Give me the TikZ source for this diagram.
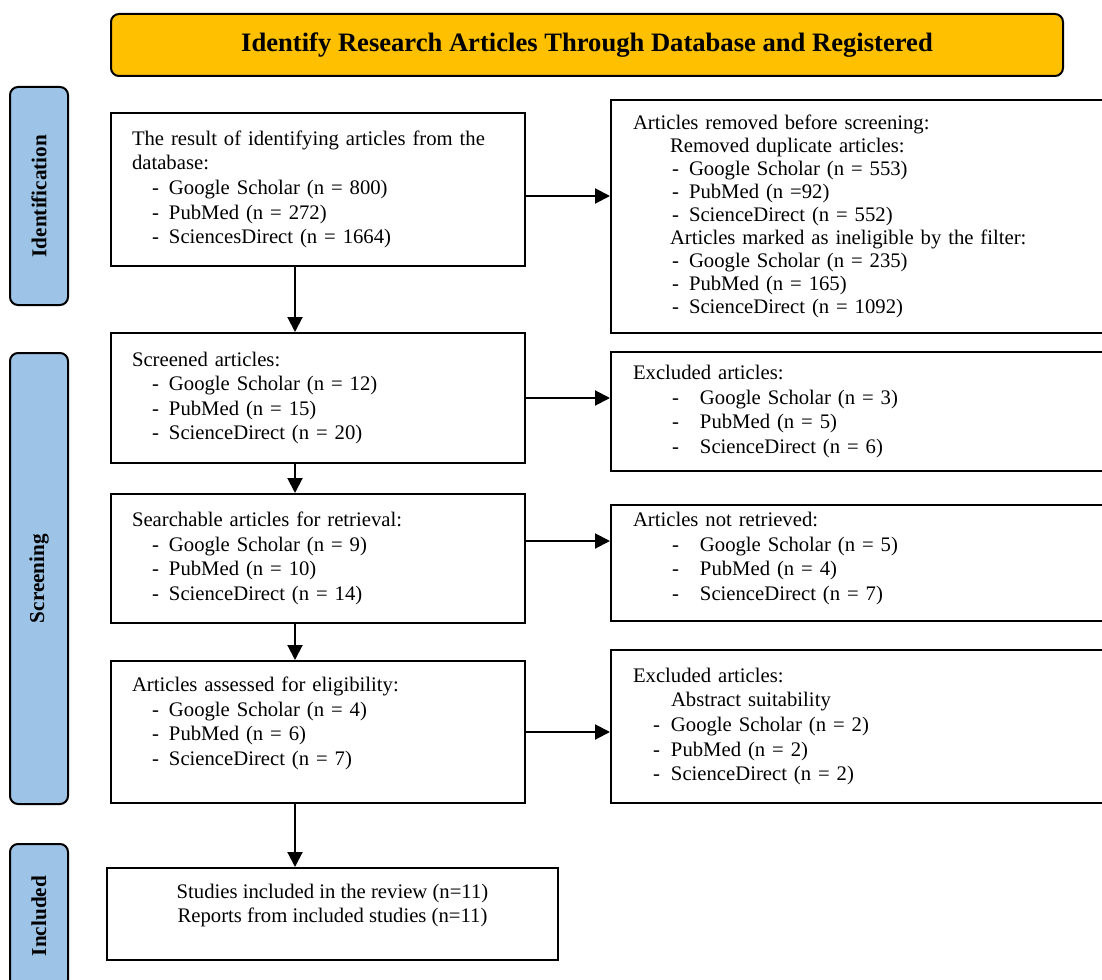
\documentclass[tikz,border=0pt]{standalone}
\usepackage{fontspec}
\setmainfont{Liberation Serif}
\usetikzlibrary{arrows.meta,positioning}
\definecolor{headgold}{HTML}{FFC000}
\definecolor{phaseblue}{HTML}{9DC3E6}
\newcommand{\dashitem}[3]{\hspace*{#1}\makebox[#2][l]{-}#3}
\begin{document}
\begin{tikzpicture}[x=0.5pt,y=-0.5pt,
  box/.style={draw,line width=1pt,align=left,inner xsep=10.5pt,inner ysep=3pt,font=\fontsize{10.35}{12.3}\selectfont},
  lbox/.style={box,text width=186pt,minimum height=#1},
  rbox/.style={box,inner xsep=11pt,text width=228.5pt,minimum height=#1},
  phase/.style={draw,line width=1pt,rounded corners=4pt,fill=phaseblue,rotate=90,minimum height=29pt,font=\fontsize{10.6}{12}\selectfont\bfseries},
  arr/.style={-{Triangle[length=7.5pt,width=7.5pt]},line width=1pt}]
\useasboundingbox (0,0) rectangle (1102,979);
\clip (0,0) rectangle (1102,979);
\node[draw,line width=1pt,rounded corners=4pt,fill=headgold,minimum width=476pt,minimum height=31pt,font=\fontsize{13.3}{16}\selectfont\bfseries] (head) at (587,45) {Identify Research Articles Through Database and Registered};
\node[phase,minimum width=109pt] (ident) at (39,196) {Identification};
\node[phase,minimum width=225.5pt] (screen) at (39,578.5) {Screening};
\node[phase,minimum width=72pt] (incl) at (39,916) {Included};
\node[lbox=76.5pt] (found) at (318,189.5) {The result of identifying articles from the\\ database:\\
  \dashitem{10pt}{8.5pt}{Google Scholar (n = 800)}\\
  \dashitem{10pt}{8.5pt}{PubMed (n = 272)}\\
  \dashitem{10pt}{8.5pt}{SciencesDirect (n = 1664)}};
\node[lbox=65pt] (screened) at (318,398) {Screened articles:\\
  \dashitem{10pt}{8.5pt}{Google Scholar (n = 12)}\\
  \dashitem{10pt}{8.5pt}{PubMed (n = 15)}\\
  \dashitem{10pt}{8.5pt}{ScienceDirect (n = 20)}};
\node[lbox=64.5pt] (sought) at (318,558.5) {Searchable articles for retrieval:\\
  \dashitem{10pt}{8.5pt}{Google Scholar (n = 9)}\\
  \dashitem{10pt}{8.5pt}{PubMed (n = 10)}\\
  \dashitem{10pt}{8.5pt}{ScienceDirect (n = 14)}};
\node[lbox=71pt] (assessed) at (318,732) {Articles assessed for eligibility:\\
  \dashitem{10pt}{8.5pt}{Google Scholar (n = 4)}\\
  \dashitem{10pt}{8.5pt}{PubMed (n = 6)}\\
  \dashitem{10pt}{8.5pt}{ScienceDirect (n = 7)}\rule[-10.7pt]{0pt}{0pt}};
\node[box,align=center,minimum width=225.5pt,minimum height=46pt] (studies) at (332.5,914) {Studies included in the review (n=11)\\ Reports from included studies (n=11)\rule[-10.7pt]{0pt}{0pt}};
\node[rbox=116.5pt,font=\fontsize{10.35}{11.45}\selectfont] (removed) at (861.5,216.5) {Articles removed before screening:\\
  \hspace*{18.5pt}Removed duplicate articles:\\
  \dashitem{19.5pt}{8.5pt}{Google Scholar (n = 553)}\\
  \dashitem{19.5pt}{8.5pt}{PubMed (n =92)}\\
  \dashitem{19.5pt}{8.5pt}{ScienceDirect (n = 552)}\\
  \hspace*{18.5pt}Articles marked as ineligible by the filter:\\
  \dashitem{19.5pt}{8.5pt}{Google Scholar (n = 235)}\\
  \dashitem{19.5pt}{8.5pt}{PubMed (n = 165)}\\
  \dashitem{19.5pt}{8.5pt}{ScienceDirect (n = 1092)}};
\node[rbox=59.5pt] (excluded) at (861.5,411.5) {Excluded articles:\\
  \dashitem{19.5pt}{14pt}{Google Scholar (n = 3)}\\
  \dashitem{19.5pt}{14pt}{PubMed (n = 5)}\\
  \dashitem{19.5pt}{14pt}{ScienceDirect (n = 6)}};
\node[rbox=58pt] (notret) at (861.5,563) {Articles not retrieved:\\
  \dashitem{19.5pt}{14pt}{Google Scholar (n = 5)}\\
  \dashitem{19.5pt}{14pt}{PubMed (n = 4)}\\
  \dashitem{19.5pt}{14pt}{ScienceDirect (n = 7)}\rule[-6.7pt]{0pt}{0pt}};
\node[rbox=76.5pt] (abstract) at (861.5,726.5) {Excluded articles:\\
  \hspace*{19pt}Abstract suitability\\
  \dashitem{10pt}{9pt}{Google Scholar (n = 2)}\\
  \dashitem{10pt}{9pt}{PubMed (n = 2)}\\
  \dashitem{10pt}{9pt}{ScienceDirect (n = 2)}};
\coordinate (colx) at (295,0);
\draw[arr] (found.south -| colx) -- (screened.north -| colx);
\draw[arr] (screened.south -| colx) -- (sought.north -| colx);
\draw[arr] (sought.south -| colx) -- (assessed.north -| colx);
\draw[arr] (assessed.south -| colx) -- (studies.north -| colx);
\draw[arr] ([yshift=-3.25pt]found.east) -- ([yshift=-3.25pt]found.east -| removed.west);
\draw[arr] (screened.east) -- (screened.east -| excluded.west);
\draw[arr] ([yshift=8.75pt]sought.east) -- ([yshift=8.75pt]sought.east -| notret.west);
\draw[arr] (assessed.east) -- (assessed.east -| abstract.west);
\end{tikzpicture}
\end{document}
